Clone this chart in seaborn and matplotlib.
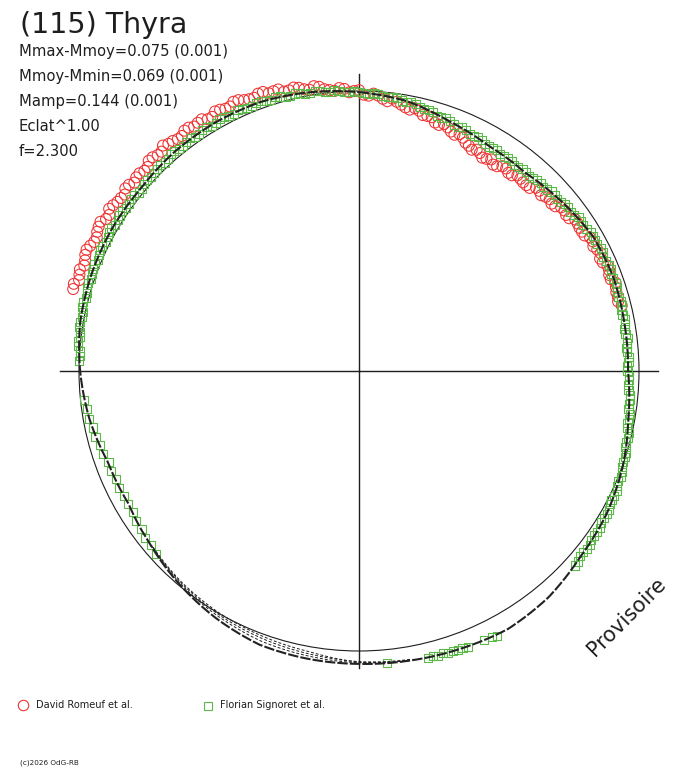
import numpy as np
import pandas as pd
import matplotlib
matplotlib.use("Agg")
import matplotlib.pyplot as plt
from matplotlib.lines import Line2D
import seaborn as sns

# ---------------- data (angle in degrees clockwise from top, radius in % of reference circle)
curve_ang = [0, 10, 20, 30, 40, 50, 60, 70, 80, 90, 100, 110, 120, 130, 140, 150, 160, 170,
             180, 190, 200, 210, 220, 230, 240, 250, 260, 270, 280, 290, 300, 310, 320, 330,
             340, 350, 360]
curve_r = [99.6, 97.9, 94.8, 92.8, 92.4, 94.3, 96.4, 96.8, 96.3, 96.1, 97.7, 100.2, 102.1, 103.2,
           105.4, 106.4, 105.6, 105.0, 104.6, 104.4, 104.0, 102.0, 99.6, 97.0, 95.0, 95.4, 97.8,
           99.6, 101.1, 101.6, 101.8, 101.6, 102.3, 102.5, 102.3, 101.1, 99.6]

alt_ang = [170, 180, 190, 200, 210, 220, 230]
alt1_r = [104.8, 104.2, 103.4, 102.6, 101.0, 99.2, 96.9]
alt2_r = [104.6, 103.8, 102.6, 101.6, 100.4, 98.8, 96.8]
alt3_r = [104.9, 104.0, 101.8, 100.8, 99.8, 98.5, 96.7]

red_ang = [286, 288, 290, 292, 294, 296, 298, 300, 302, 304, 306, 308, 310, 312, 314, 316, 318,
           320, 322, 324, 326, 328, 330, 332, 334, 336, 338, 340, 342, 344, 346, 348, 350, 352,
           354, 356, 358, 360, 2, 4, 6, 8, 10, 12, 14, 16, 18, 20, 22, 24, 26, 28, 30, 32, 34,
           36, 38, 40, 42, 44, 46, 48, 50, 52, 54, 56, 58, 60, 62, 64, 66, 68, 70, 72, 74, 76]
red_r = [106.2, 105.1, 106.1, 105.5, 106.5, 105.2, 105.9, 106.6, 105.2, 105.9, 105.1, 105.9,
         104.7, 105.5, 104.9, 106.1, 105.4, 105.9, 105.1, 106.1, 105.3, 106.0, 104.8, 105.7,
         105.1, 105.9, 104.7, 105.4, 104.3, 104.6, 103.3, 103.4, 102.0, 102.5, 100.9, 101.3,
         99.6, 100.3, 98.4, 98.6, 96.9, 97.1, 95.6, 96.0, 94.2, 94.3, 92.4, 92.6, 91.0, 91.2,
         89.5, 89.5, 88.0, 89.1, 88.2, 89.4, 88.7, 89.6, 89.3, 91.0, 90.4, 91.7, 91.5, 93.1,
         92.8, 94.2, 93.9, 95.3, 94.8, 96.0, 95.3, 96.3, 95.7, 96.5, 96.2, 96.7]
red2_ang = [287, 289, 291, 293, 295, 297, 299, 301, 303, 305, 307, 309, 311, 313, 315, 317,
            319, 321, 323, 325, 327, 329, 331, 333, 335, 337, 339, 341, 343, 345, 347, 349,
            351, 353, 355, 357, 359, 1, 3, 5, 7, 9, 11, 13, 15, 17, 19, 21, 23, 25, 27, 29,
            31, 33, 35, 37, 39, 41, 43, 45, 47, 49, 51, 53, 55, 57, 59, 61, 63, 65, 67, 69,
            71, 73, 75]
red2_r = [106.5, 105.6, 105.1, 106.2, 105.9, 105.1, 106.3, 105.4, 106.4, 105.3, 104.7, 105.7,
          105.4, 104.8, 106.2, 105.4, 106.7, 105.7, 105.1, 106.1, 105.7, 104.9, 106.0, 105.1,
          106.1, 105.1, 104.5, 105.4, 104.5, 103.3, 103.9, 102.5, 103.0, 101.4, 100.4, 100.9,
          100.0, 98.7, 99.2, 97.6, 98.0, 96.3, 95.1, 95.4, 94.3, 92.8, 93.3, 91.6, 91.9, 90.0,
          88.7, 89.0, 88.4, 87.9, 89.3, 88.6, 89.9, 89.3, 89.4, 91.0, 91.2, 91.1, 92.9, 92.6,
          94.3, 93.9, 94.0, 95.5, 95.5, 95.0, 96.4, 95.7, 96.9, 96.1, 95.8]

green_ang = [272, 274, 276, 278, 280, 282, 284, 286, 288, 290, 292, 294, 296, 298, 300, 302,
             304, 306, 308, 310, 312, 314, 316, 318, 320, 322, 324, 326, 328, 330, 332, 334,
             336, 338, 340, 342, 344, 346, 348, 350, 352, 354, 356, 358, 0, 2, 4, 6, 8, 10,
             12, 14, 16, 18, 20, 22, 24, 26, 28, 30, 32, 34, 36, 38, 40, 42, 44, 46, 48, 50,
             52, 54, 56, 58, 60, 62, 64, 66, 68, 70, 72, 74, 76, 78, 80, 82, 84, 86, 88, 90,
             92, 94, 96, 98, 100, 102, 104, 106, 108, 110, 112, 114, 116, 118, 120, 122, 124,
             126, 128, 130, 132,
             152.5, 153.5, 155, 158.5, 159.5, 160.5, 161.5, 162.5, 163.5, 164.5, 165.5, 166.5,
             174.5,
             228, 230, 232, 234, 236, 238, 240, 242, 244, 246, 248, 250, 252, 254, 256, 258,
             260, 262, 264]
green_r = [100.2, 99.9, 100.8, 100.5, 101.3, 100.9, 101.6, 101.2, 101.8, 101.4, 101.9, 101.5,
           102.0, 101.6, 102.1, 101.5, 102.0, 101.4, 101.9, 101.3, 102.0, 101.7, 102.3, 101.9,
           102.6, 102.0, 102.7, 102.2, 102.8, 102.2, 102.7, 102.2, 102.6, 102.0, 102.5, 101.8,
           102.0, 101.3, 101.5, 100.8, 101.0, 100.3, 100.4, 99.7, 99.8, 99.1, 99.1, 98.3,
           98.4, 97.6, 97.5, 96.4, 96.2, 95.2, 95.0, 94.1, 94.2, 93.4, 93.4, 92.6, 92.9, 92.4,
           92.8, 92.3, 92.6, 92.6, 93.4, 93.3, 94.1, 94.1, 94.9, 94.9, 95.8, 95.8, 96.6, 96.3,
           96.8, 96.4, 96.9, 96.6, 96.9, 96.4, 96.7, 96.2, 96.5, 96.1, 96.4, 96.0, 96.3, 95.9,
           96.6, 96.5, 97.3, 97.2, 97.9, 98.0, 98.9, 99.0, 99.9, 100.0, 100.8, 100.8, 101.5,
           101.5, 102.3, 102.1, 102.7, 102.6, 103.2, 103.0, 103.8,
           106.6, 106.2, 106.0, 105.9, 105.5, 105.7, 105.3, 105.6, 105.2, 105.5, 105.1, 105.4,
           104.8,
           97.7, 96.8, 96.9, 96.0, 96.0, 95.2, 95.2, 94.9, 95.4, 95.0, 95.5, 95.2, 96.1, 96.2,
           97.0, 97.1, 98.0, 98.0, 98.7]
green2_ang = [273, 275, 277, 279, 281, 283, 285, 287, 289, 291, 293, 295, 297, 299, 301, 303,
              305, 307, 309, 311, 313, 315, 317, 319, 321, 323, 325, 327, 329, 331, 333, 335,
              337, 339, 341, 343, 345, 347, 349, 351, 353, 355, 357, 359, 1, 3, 5, 7, 9, 11,
              13, 15, 17, 19, 21, 23, 25, 27, 29, 31, 33, 35, 37, 39, 41, 43, 45, 47, 49, 51,
              53, 55, 57, 59, 61, 63, 65, 67, 69, 71, 73, 75, 77, 79, 81, 83, 85, 87, 89, 91,
              93, 95, 97, 99, 101, 103, 105, 107, 109, 111, 113, 115, 117, 119, 121, 123, 125,
              127, 129, 131]
green2_r = [99.8, 100.6, 100.4, 101.2, 100.9, 101.5, 101.1, 101.7, 101.3, 101.9, 101.4, 102.0,
            101.5, 102.1, 101.5, 102.0, 101.4, 101.9, 101.3, 101.9, 101.5, 102.2, 101.8, 102.5,
            102.0, 102.6, 102.1, 102.7, 102.2, 102.8, 102.1, 102.7, 102.0, 102.6, 101.9, 102.2,
            101.4, 101.7, 100.9, 101.2, 100.4, 100.6, 99.8, 100.0, 99.2, 99.4, 98.5, 98.7,
            97.8, 97.9, 96.7, 96.6, 95.4, 95.4, 94.3, 94.5, 93.5, 93.7, 92.7, 93.0, 92.3, 92.9,
            92.2, 92.8, 92.3, 93.3, 93.0, 94.0, 93.8, 94.8, 94.6, 95.7, 95.5, 96.5, 96.2, 96.9,
            96.3, 97.0, 96.5, 97.0, 96.4, 96.9, 96.2, 96.7, 96.0, 96.6, 95.9, 96.5, 95.8, 96.6,
            96.3, 97.2, 97.0, 97.9, 97.7, 98.8, 98.7, 99.8, 99.7, 100.7, 100.5, 101.5, 101.2,
            102.2, 101.9, 102.7, 102.4, 103.2, 102.8, 103.7]

title = "(115) Thyra"
info_lines = ["Mmax-Mmoy=0.075 (0.001)", "Mmoy-Mmin=0.069 (0.001)", "Mamp=0.144 (0.001)",
              "Eclat^1.00", "f=2.300"]
series_names = ["David Romeuf et al.", "Florian Signoret et al."]
footer = "(c)2026 OdG-RB"
stamp = "Provisoire"

RED = "#ee3333"
GREEN = "#5cb848"
INK = "#1e1e1e"


def polar_df(ang, r):
    return pd.DataFrame({"theta": np.deg2rad(np.asarray(ang, dtype=float)),
                         "r": np.asarray(r, dtype=float) / 100.0})


W, H = 688, 768
CX, CY, RPIX = 359, 371, 280
RAX = 310  # pixel radius of the polar axes box

fig = plt.figure(figsize=(W / 100, H / 100), dpi=100)
fig.patch.set_facecolor("white")
ax = fig.add_axes([(CX - RAX) / W, (H - CY - RAX) / H, 2 * RAX / W, 2 * RAX / H],
                  projection="polar")
ax.set_theta_zero_location("N")
ax.set_theta_direction(-1)
ax.set_ylim(0, RAX / RPIX)
ax.axis("off")

# cross axes
ax.plot([0, 0], [0, 297 / RPIX], color=INK, lw=1.0, zorder=1)
ax.plot([np.pi, np.pi], [0, 297 / RPIX], color=INK, lw=1.0, zorder=1)
ax.plot([np.pi / 2, np.pi / 2], [0, 299 / RPIX], color=INK, lw=1.0, zorder=1)
ax.plot([1.5 * np.pi, 1.5 * np.pi], [0, 299 / RPIX], color=INK, lw=1.0, zorder=1)

# reference circle
t = np.linspace(0, 2 * np.pi, 721)
ax.plot(t, np.ones_like(t), color=INK, lw=0.8, zorder=2)

# markers
dfr = pd.concat([polar_df(red_ang, red_r), polar_df(red2_ang, red2_r)], ignore_index=True)
sns.scatterplot(data=dfr, x="theta", y="r", marker="o", s=62, facecolors="none",
                edgecolor=RED, linewidth=0.75, ax=ax, zorder=3, legend=False)
dfg = pd.concat([polar_df(green_ang, green_r), polar_df(green2_ang, green2_r)],
                ignore_index=True)
sns.scatterplot(data=dfg, x="theta", y="r", marker="s", s=34, facecolors="none",
                edgecolor=GREEN, linewidth=0.8, ax=ax, zorder=4, legend=False)

# alternative dashed fits
for rr in (alt1_r, alt2_r, alt3_r):
    sns.lineplot(data=polar_df(alt_ang, rr), x="theta", y="r", sort=False, estimator=None,
                 color=INK, lw=0.7, linestyle=(0, (3, 2)), ax=ax, zorder=5)

# main curve
sns.lineplot(data=polar_df(curve_ang, curve_r), x="theta", y="r", sort=False, estimator=None,
             color="#222222", lw=1.5, linestyle=(0, (5, 1)), ax=ax, zorder=6)
for ln in ax.lines:
    ln.get_path()._interpolation_steps = 40
ax.set_xlabel("")
ax.set_ylabel("")
ax.set_ylim(0, RAX / RPIX)


def fx(px):
    return px / W


def fy(py):
    return 1 - py / H


fig.text(fx(20), fy(33), title, fontsize=20.5, color=INK, va="baseline", ha="left")
for i, line in enumerate(info_lines):
    fig.text(fx(19), fy(56 + 25 * i), line, fontsize=10.6, color=INK, va="baseline", ha="left")

# legend
fig.add_artist(Line2D([fx(22.7)], [fy(705)], transform=fig.transFigure, marker="o", ms=7.5,
                      mfc="none", mec=RED, mew=0.8, ls="none"))
fig.text(fx(36), fy(705), series_names[0], fontsize=7, color=INK, va="center", ha="left")
fig.add_artist(Line2D([fx(208)], [fy(705.5)], transform=fig.transFigure, marker="s", ms=5.4,
                      mfc="none", mec=GREEN, mew=0.8, ls="none"))
fig.text(fx(220), fy(705), series_names[1], fontsize=7, color=INK, va="center", ha="left")

fig.text(fx(20), fy(763), footer, fontsize=5.2, color=INK, va="center", ha="left")

fig.text(fx(595), fy(657), stamp, fontsize=15, color=INK, rotation=45,
         rotation_mode="anchor", va="baseline", ha="left")

fig.savefig("out.png", dpi=100, facecolor="white")
